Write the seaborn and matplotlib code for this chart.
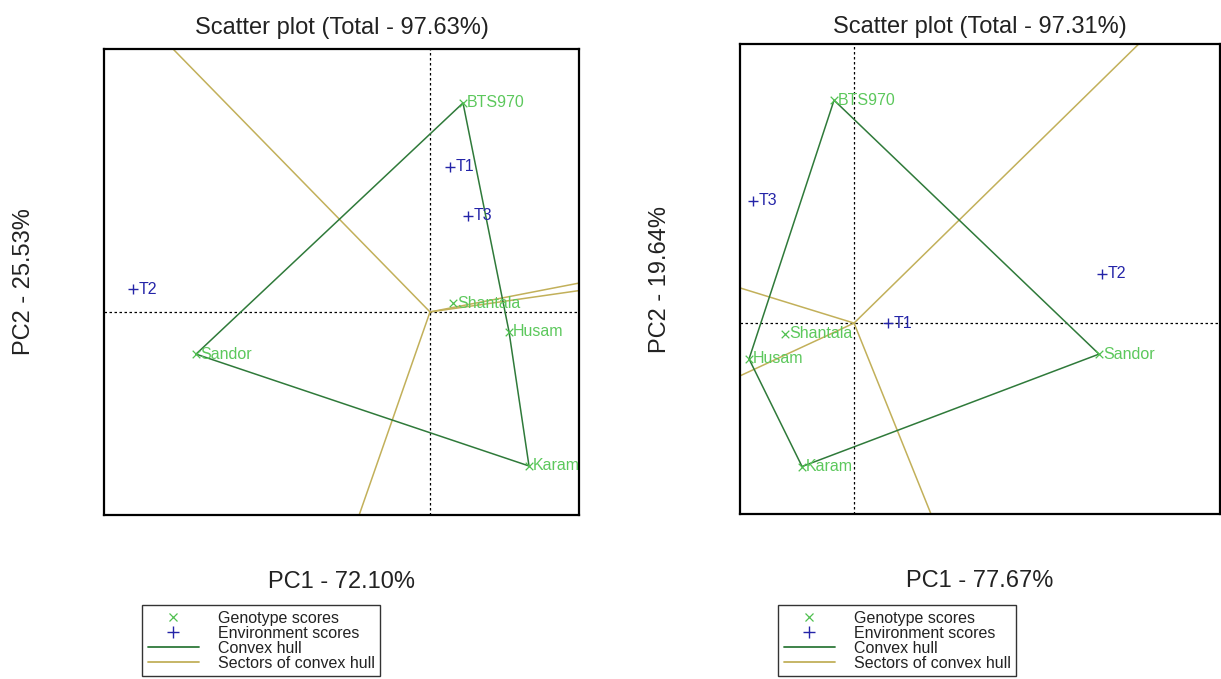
import numpy as np
import pandas as pd
import matplotlib
matplotlib.use("Agg")
import matplotlib.pyplot as plt
from matplotlib.lines import Line2D
import seaborn as sns

# Panel 1 (Total - 97.63%)
genotypes = ["BTS970", "Shantala", "Husam", "Sandor", "Karam"]
g1_pc1 = [0.33, 0.23, 0.79, -2.34, 0.99]
g1_pc2 = [2.13, 0.09, -0.20, -0.43, -1.57]
environments = ["T1", "T2", "T3"]
e1_pc1 = [0.20, -2.97, 0.38]
e1_pc2 = [1.48, 0.23, 0.98]

# Panel 2 (Total - 97.31%)
g2_pc1 = [-0.20, -0.69, -1.05, 2.45, -0.52]
g2_pc2 = [2.30, -0.11, -0.37, -0.32, -1.48]
e2_pc1 = [0.34, 2.48, -1.01]
e2_pc2 = [0.00, 0.51, 1.26]

titles = ["Scatter plot (Total - 97.63%)", "Scatter plot (Total - 97.31%)"]
xlabels = ["PC1 - 72.10%", "PC1 - 77.67%"]
ylabels = ["PC2 - 25.53%", "PC2 - 19.64%"]

GENO_COL = "#4fc04f"
ENV_COL = "#2424a8"
HULL_COL = "#2f7a3a"
SECT_COL = "#c2b05a"

sns.set_theme(style="white")
plt.rcParams['font.family'] = ['Liberation Sans', 'DejaVu Sans']


def convex_hull(points):
    pts = sorted(map(tuple, points))

    def cross(o, a, b):
        return (a[0] - o[0]) * (b[1] - o[1]) - (a[1] - o[1]) * (b[0] - o[0])

    lower, upper = [], []
    for p in pts:
        while len(lower) >= 2 and cross(lower[-2], lower[-1], p) <= 0:
            lower.pop()
        lower.append(p)
    for p in reversed(pts):
        while len(upper) >= 2 and cross(upper[-2], upper[-1], p) <= 0:
            upper.pop()
        upper.append(p)
    return np.array(lower[:-1] + upper[:-1])


def draw_panel(ax, g_pc1, g_pc2, e_pc1, e_pc2, xlim, ylim, title, xlabel, ylabel, title_pad):
    geno = pd.DataFrame({"PC1": g_pc1, "PC2": g_pc2, "name": genotypes})
    env = pd.DataFrame({"PC1": e_pc1, "PC2": e_pc2, "name": environments})

    # convex hull of genotypes and perpendicular sector lines from origin
    hull = convex_hull(geno[["PC1", "PC2"]].values)
    closed = np.vstack([hull, hull[:1]])
    for p, q in zip(closed[:-1], closed[1:]):
        d = q - p
        n = np.array([d[1], -d[0]])
        if np.dot(n, p) < 0:
            n = -n
        n = n / np.linalg.norm(n) * 20
        ax.plot([0, n[0]], [0, n[1]], color=SECT_COL, lw=1.1, zorder=2)
    ax.plot(closed[:, 0], closed[:, 1], color=HULL_COL, lw=1.1, zorder=3)

    ax.axhline(0, color="black", lw=0.9, ls=(0, (2, 2)), zorder=1)
    ax.axvline(0, color="black", lw=0.9, ls=(0, (2, 2)), zorder=1)

    sns.scatterplot(data=geno, x="PC1", y="PC2", marker="x", color=GENO_COL,
                    s=30, linewidth=0.9, ax=ax, legend=False, zorder=4)
    sns.scatterplot(data=env, x="PC1", y="PC2", marker="+", color=ENV_COL,
                    s=55, linewidth=1.0, ax=ax, legend=False, zorder=4)
    for _, r in geno.iterrows():
        ax.annotate(r["name"], (r["PC1"], r["PC2"]), xytext=(3, 0),
                    textcoords="offset points", ha="left", va="center",
                    color="#5cc85c", fontsize=11.5, zorder=5)
    for _, r in env.iterrows():
        ax.annotate(r["name"], (r["PC1"], r["PC2"]), xytext=(4, 0),
                    textcoords="offset points", ha="left", va="center",
                    color=ENV_COL, fontsize=11.5, zorder=5)

    ax.set_xlim(*xlim)
    ax.set_ylim(*ylim)
    ax.set_xticks([])
    ax.set_yticks([])
    ax.set_xlabel(xlabel, fontsize=17, labelpad=40, color="#222222")
    ax.set_ylabel(ylabel, fontsize=17, labelpad=50, color="#222222")
    ax.set_title(title, fontsize=17, pad=title_pad, color="#222222")
    for s in ax.spines.values():
        s.set_color("black")
        s.set_linewidth(1.6)


fig = plt.figure(figsize=(12.21, 6.79), dpi=100)
ax1 = fig.add_axes([0.0852, 0.2415, 0.389, 0.6863])
ax2 = fig.add_axes([0.6061, 0.243, 0.3931, 0.6922])

draw_panel(ax1, g1_pc1, g1_pc2, e1_pc1, e1_pc2, (-3.26, 1.49), (-2.07, 2.68),
           titles[0], xlabels[0], ylabels[0], 11)
draw_panel(ax2, g2_pc1, g2_pc2, e2_pc1, e2_pc2, (-1.14, 3.66), (-1.97, 2.88),
           titles[1], xlabels[1], ylabels[1], 8)

handles = [
    Line2D([], [], marker="x", color=GENO_COL, ls="none", markersize=6, mew=0.9),
    Line2D([], [], marker="+", color=ENV_COL, ls="none", markersize=8, mew=1.0),
    Line2D([], [], color=HULL_COL, lw=1.3),
    Line2D([], [], color=SECT_COL, lw=1.3),
]
labels = ["Genotype scores", "Environment scores", "Convex hull", "Sectors of convex hull"]
for x0 in [0.1163, 0.6372]:
    leg = fig.legend(handles, labels, loc="upper left", bbox_to_anchor=(x0, 0.109),
                     fontsize=11.5, frameon=True, fancybox=False, edgecolor="#333333",
                     framealpha=1, borderpad=0.35, labelspacing=0.0,
                     handlelength=3.2, handletextpad=1.2, borderaxespad=0)
    leg.get_frame().set_linewidth(1.0)
    for t in leg.get_texts():
        t.set_color("#222222")

fig.savefig("out.png", dpi=100)
